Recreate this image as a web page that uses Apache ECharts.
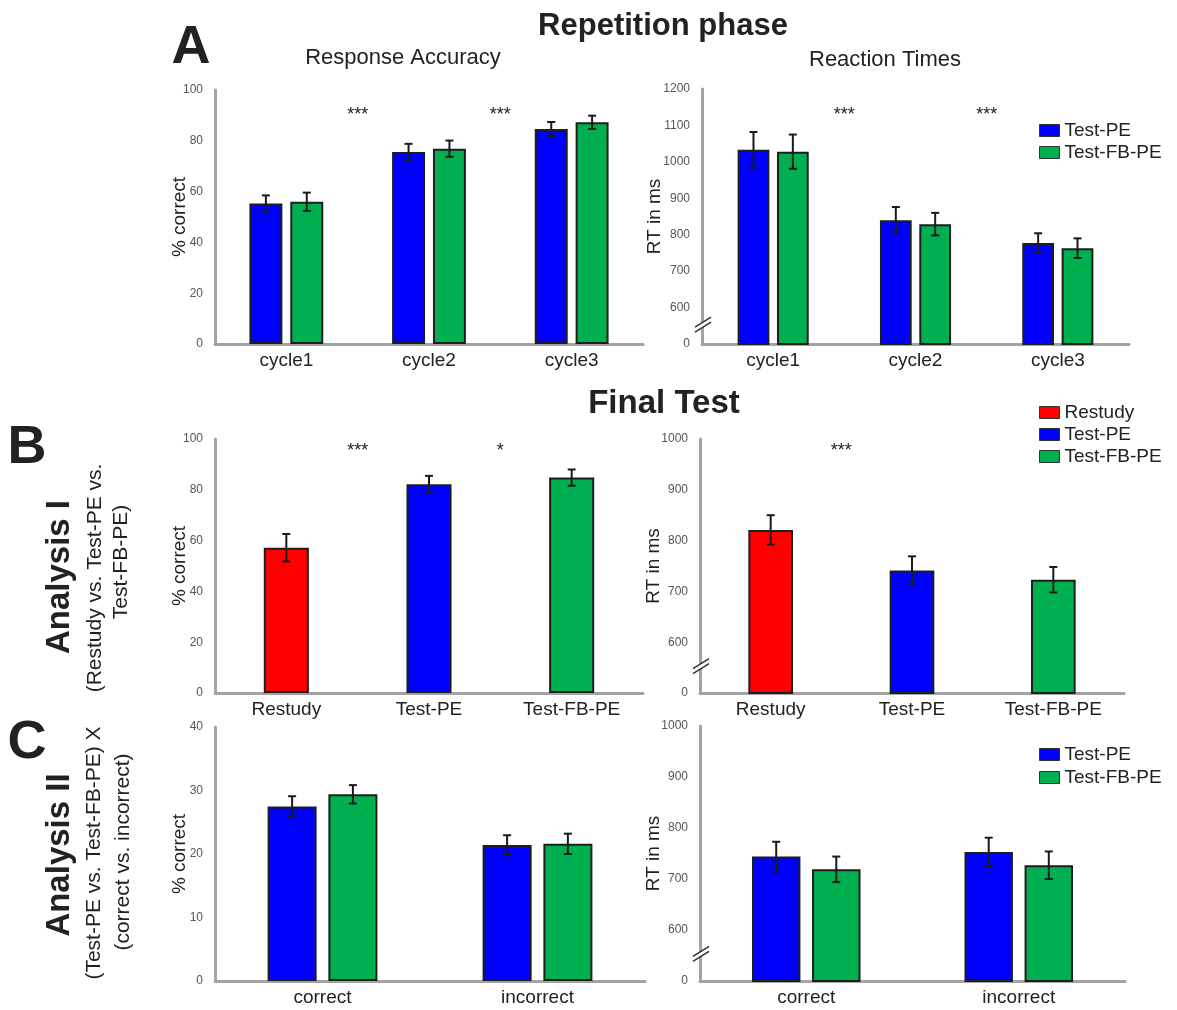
<!DOCTYPE html>
<html>
<head>
<meta charset="utf-8">
<title>Repetition phase / Final Test</title>
<script src="https://cdn.jsdelivr.net/npm/echarts@6/dist/echarts.min.js"></script>
<style>
  html, body { margin: 0; padding: 0; background: #fff; }
  #main { width: 1177px; height: 1010px; }
</style>
</head>
<body>
<div id="main"></div>
<script>
// ---- data ----
const cycles = ['cycle1', 'cycle2', 'cycle3']
const conditions = ['Restudy', 'Test-PE', 'Test-FB-PE']
const outcomes = ['correct', 'incorrect']

// A - repetition phase, accuracy (% correct)
const repAccTestPE = [55.3, 75.6, 84.6]
const repAccTestPEErr = [3.2, 3.2, 2.8]
const repAccTestFBPE = [56.0, 76.9, 87.3]
const repAccTestFBPEErr = [3.6, 3.2, 2.6]

// A - repetition phase, reaction times (ms)
const repRtTestPE = [1033, 840, 777]
const repRtTestPEErr = [49, 36, 27]
const repRtTestFBPE = [1028, 829, 763]
const repRtTestFBPEErr = [47, 31, 27]

// B - final test per condition
const finalAcc = [57.2, 82.2, 84.8]
const finalAccErr = [5.4, 3.3, 3.2]
const finalRt = [821, 741, 723]
const finalRtErr = [29, 28, 25]

// C - final test split by outcome in the repetition phase
const outAccTestPE = [27.5, 21.4]
const outAccTestPEErr = [1.6, 1.55]
const outAccTestFBPE = [29.4, 21.6]
const outAccTestFBPEErr = [1.45, 1.6]
const outRtTestPE = [744, 753]
const outRtTestPEErr = [29, 28]
const outRtTestFBPE = [719, 727]
const outRtTestFBPEErr = [25, 27]

// axis ranges [min, max, step]; RT axes are broken, their floor is labelled 0
const accRange = [0, 100, 20]
const accRangeC = [0, 40, 10]
const rtRangeA = [500, 1200, 100]
const rtRange = [500, 1000, 100]
const rtFloorLabel = '0'

// significance between neighbouring categories
const sigRepAcc = ['***', '***']
const sigRepRt = ['***', '***']
const sigFinalAcc = ['***', '*']
const sigFinalRt = ['***', '']

const FONT = '"Liberation Sans", Arial, Helvetica, sans-serif'
const colors = { 'Restudy': '#ff0000', 'Test-PE': '#0000ff', 'Test-FB-PE': '#00b050' }
const AXIS_GRAY = '#a3a3a3'

// panel layout, row by row (pixels)
const panels = [
  { left: 215, top: 90, width: 428, height: 254, cats: cycles, range: accRange, yName: '% correct', nameGap: 26, bw: 23.1, gap: 24, sig: sigRepAcc, sigY: 111 },
  { left: 702, top: 89, width: 427, height: 255, cats: cycles, range: rtRangeA, yName: 'RT in ms', nameGap: 38, bw: 22.3, gap: 24, brk: true, sig: sigRepRt, sigY: 111 },
  { left: 215, top: 439, width: 428, height: 254, cats: conditions, range: accRange, yName: '% correct', nameGap: 26, bw: 31.6, gap: -100, sig: sigFinalAcc, sigY: 447 },
  { left: 700, top: 439, width: 424, height: 254, cats: conditions, range: rtRange, yName: 'RT in ms', nameGap: 37, bw: 31.6, gap: -100, brk: true, sig: sigFinalRt, sigY: 447 },
  { left: 215, top: 727, width: 430, height: 254, cats: outcomes, range: accRangeC, yName: '% correct', nameGap: 26, bw: 22.8, gap: 24, },
  { left: 700, top: 726, width: 425, height: 255, cats: outcomes, range: rtRange, yName: 'RT in ms', nameGap: 37, bw: 22.8, gap: 24, brk: true },
]

function errRender(offset) {
  return function (params, api) {
    const ci = api.value(0), v = api.value(1), e = api.value(2)
    const band = api.size([1, 0])[0]
    const x = api.coord([ci, v])[0] + offset * band
    const yHi = api.coord([ci, v + e])[1]
    const yLo = api.coord([ci, v - e])[1]
    const cap = 4
    const st = { stroke: '#1a1a1a', lineWidth: 2 }
    return {
      type: 'group',
      children: [
        { type: 'line', shape: { x1: x, y1: yHi, x2: x, y2: yLo }, style: st },
        { type: 'line', shape: { x1: x - cap, y1: yHi, x2: x + cap, y2: yHi }, style: st },
        { type: 'line', shape: { x1: x - cap, y1: yLo, x2: x + cap, y2: yLo }, style: st }
      ]
    }
  }
}

function barSeries(gi, name, values) {
  const p = panels[gi]
  return {
    type: 'bar', name: name, xAxisIndex: gi, yAxisIndex: gi, data: values,
    barWidth: p.bw + '%', barGap: p.gap + '%',
    itemStyle: { color: colors[name], borderColor: '#1e1e1e', borderWidth: 2 },
    emphasis: { disabled: true }, z: 2
  }
}

function errSeries(gi, values, errs, slot) {
  // slot: -1 left bar, +1 right bar, 0 single bar
  const p = panels[gi]
  const offset = slot * (p.bw / 100) * (1 + p.gap / 100) / 2
  return {
    type: 'custom', xAxisIndex: gi, yAxisIndex: gi, z: 3, silent: true,
    data: values.map((v, i) => [i, v, errs[i]]),
    encode: { x: 0, y: 1 },
    renderItem: errRender(offset)
  }
}

// one bar per category in B, all at the same slot
function only(values, k) {
  return values.map((v, i) => (i === k ? v : '-'))
}

const series = [
  barSeries(0, 'Test-PE', repAccTestPE),
  barSeries(0, 'Test-FB-PE', repAccTestFBPE),
  errSeries(0, repAccTestPE, repAccTestPEErr, -1),
  errSeries(0, repAccTestFBPE, repAccTestFBPEErr, 1),

  barSeries(1, 'Test-PE', repRtTestPE),
  barSeries(1, 'Test-FB-PE', repRtTestFBPE),
  errSeries(1, repRtTestPE, repRtTestPEErr, -1),
  errSeries(1, repRtTestFBPE, repRtTestFBPEErr, 1),

  barSeries(2, 'Restudy', only(finalAcc, 0)),
  barSeries(2, 'Test-PE', only(finalAcc, 1)),
  barSeries(2, 'Test-FB-PE', only(finalAcc, 2)),
  errSeries(2, finalAcc, finalAccErr, 0),

  barSeries(3, 'Restudy', only(finalRt, 0)),
  barSeries(3, 'Test-PE', only(finalRt, 1)),
  barSeries(3, 'Test-FB-PE', only(finalRt, 2)),
  errSeries(3, finalRt, finalRtErr, 0),

  barSeries(4, 'Test-PE', outAccTestPE),
  barSeries(4, 'Test-FB-PE', outAccTestFBPE),
  errSeries(4, outAccTestPE, outAccTestPEErr, -1),
  errSeries(4, outAccTestFBPE, outAccTestFBPEErr, 1),

  barSeries(5, 'Test-PE', outRtTestPE),
  barSeries(5, 'Test-FB-PE', outRtTestFBPE),
  errSeries(5, outRtTestPE, outRtTestPEErr, -1),
  errSeries(5, outRtTestFBPE, outRtTestFBPEErr, 1),
]

const legendBase = {
  orient: 'vertical', left: 1039, icon: 'rect', itemWidth: 20, itemHeight: 12,
  itemGap: 3, padding: 0, selectedMode: false,
  itemStyle: { borderWidth: 1, borderColor: '#333' },
  textStyle: { fontSize: 19, color: '#222', fontFamily: FONT }
}

const option = {
  animation: false,
  backgroundColor: '#fff',
  grid: panels.map(p => ({ left: p.left, top: p.top, width: p.width, height: p.height, outerBoundsMode: 'none' })),
  xAxis: panels.map((p, i) => ({
    type: 'category', gridIndex: i, data: p.cats,
    axisTick: { show: false },
    axisLine: { lineStyle: { color: AXIS_GRAY, width: 3 } },
    axisLabel: { fontSize: 19, color: '#222', margin: 7, interval: 0, fontFamily: FONT }
  })),
  yAxis: panels.map((p, i) => ({
    type: 'value', gridIndex: i, min: p.range[0], max: p.range[1], interval: p.range[2],
    name: p.yName, nameLocation: 'middle', nameGap: p.nameGap, nameMoveOverlap: false,
    nameTextStyle: { fontSize: 19, color: '#222', fontFamily: FONT },
    axisLine: { show: true, lineStyle: { color: AXIS_GRAY, width: 3 } },
    axisTick: { show: false },
    splitLine: { show: false },
    axisLabel: {
      fontSize: 12, color: '#555', margin: 12, fontFamily: FONT,
      formatter: v => (p.brk && v === p.range[0]) ? rtFloorLabel : String(v)
    }
  })),
  legend: [
    Object.assign({}, legendBase, { top: 121, data: ['Test-PE', 'Test-FB-PE'] }),
    Object.assign({}, legendBase, { top: 403, data: ['Restudy', 'Test-PE', 'Test-FB-PE'] }),
    Object.assign({}, legendBase, { top: 745, itemGap: 4, data: ['Test-PE', 'Test-FB-PE'] })
  ],
  series: series
}

const chart = echarts.init(document.getElementById('main'))
chart.setOption(option)

// ---- texts, significance stars and axis breaks ----
function txt(text, x, y, size, bold, rot) {
  return {
    type: 'text', x: x, y: y, rotation: rot || 0, silent: true,
    style: {
      text: text, fill: '#222', fontSize: size, fontWeight: bold ? 'bold' : 'normal',
      fontFamily: FONT, align: 'center', verticalAlign: 'middle'
    }
  }
}

const R = Math.PI / 2
const graphic = [
  txt('Repetition phase', 663, 26, 31, true),
  txt('Response Accuracy', 403, 58, 22),
  txt('Reaction Times', 885, 60, 22),
  txt('Final Test', 664, 404, 33, true),
  txt('A', 191, 48, 54, true),
  txt('B', 27, 448, 54, true),
  txt('C', 27, 743, 54, true),
  txt('Analysis I', 60, 577, 33, true, R),
  txt('(Restudy vs. Test-PE vs.', 95, 578, 21, false, R),
  txt('Test-FB-PE)', 121, 562, 21, false, R),
  txt('Analysis II', 60, 855, 33, true, R),
  txt('(Test-PE vs. Test-FB-PE) X', 94, 853, 21, false, R),
  txt('(correct vs. incorrect)', 123, 852, 21, false, R)
]

panels.forEach((p, gi) => {
  if (p.sig) {
    p.sig.forEach((s, i) => {
      if (!s) return
      const a = chart.convertToPixel({ gridIndex: gi }, [p.cats[i], p.range[0]])
      const b = chart.convertToPixel({ gridIndex: gi }, [p.cats[i + 1], p.range[0]])
      graphic.push(txt(s, (a[0] + b[0]) / 2, p.sigY + 4, 18))
    })
  }
  if (p.brk) {
    // "//" break mark between the floor and the first real tick
    const y = chart.convertToPixel({ gridIndex: gi }, [p.cats[0], p.range[0] + p.range[2] * 0.52])[1]
    const x = p.left
    graphic.push({
      type: 'polygon', silent: true,
      shape: { points: [[x - 7, y + 7], [x + 9, y - 3], [x + 9, y - 8], [x - 7, y + 2]] },
      style: { fill: '#fff' }, z: 10
    })
    const ls = { stroke: '#333', lineWidth: 1.5 }
    graphic.push({ type: 'line', silent: true, z: 11, shape: { x1: x - 7, y1: y + 7, x2: x + 9, y2: y - 3 }, style: ls })
    graphic.push({ type: 'line', silent: true, z: 11, shape: { x1: x - 7, y1: y + 2, x2: x + 9, y2: y - 8 }, style: ls })
  }
})

chart.setOption({ graphic: graphic })
</script>
</body>
</html>
